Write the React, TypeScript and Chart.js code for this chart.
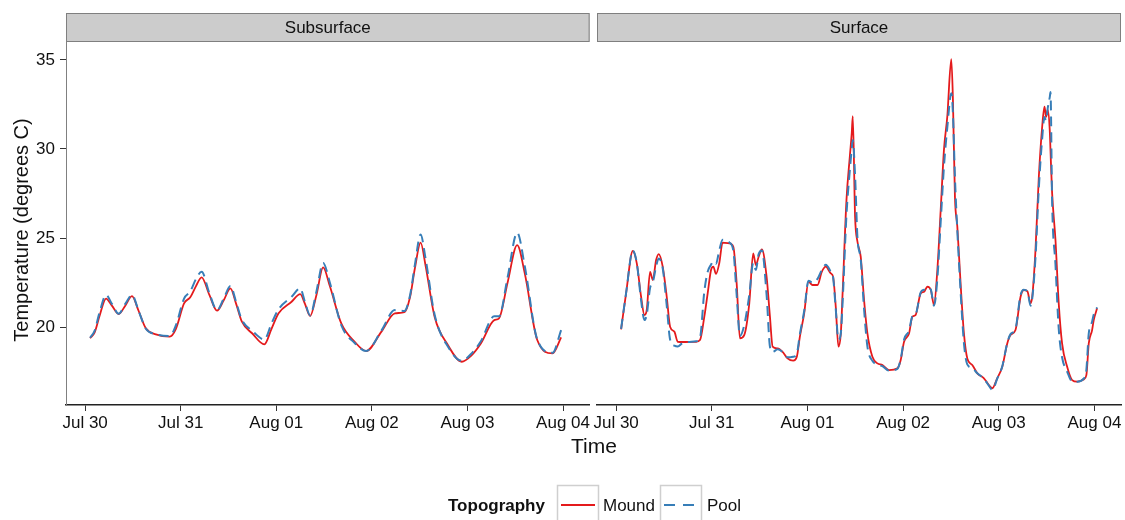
import React, { useEffect, useRef } from "react";
import { Chart, registerables } from "chart.js";

Chart.register(...registerables);

const FONT = '"Liberation Sans", Arial, Helvetica, sans-serif';
Chart.defaults.font.family = FONT;

// ---- axis ticks ----
const dayTicks = [0, 1, 2, 3, 4, 5];
const dayLabels = ["Jul 30", "Jul 31", "Aug 01", "Aug 02", "Aug 03", "Aug 04"];
const tempTicks = [20, 25, 30, 35];
const X_MIN = -0.2;
const X_MAX = 5.278;
const Y_MIN = 15.62;
const Y_MAX = 36.01;

const panelNames = ["Subsurface", "Surface"];
const seriesNames = ["Mound", "Pool"];
const yTitle = "Temperature (degrees C)";
const xTitle = "Time";
const legendTitle = "Topography";

// ---- Subsurface (time in days since Jul 30 00:00) ----
const subTime = [
  0.052, 0.10, 0.15, 0.219, 0.28, 0.351, 0.42, 0.49, 0.56, 0.635,
  0.74, 0.885, 0.95, 1.035, 1.10, 1.16, 1.219, 1.30, 1.38, 1.45,
  1.52, 1.58, 1.64, 1.747, 1.875, 1.95, 2.024, 2.16, 2.25, 2.30,
  2.354, 2.42, 2.49, 2.56, 2.68, 2.82, 2.94, 3.10, 3.24, 3.34,
  3.40, 3.45, 3.51, 3.56, 3.656, 3.795, 3.94, 4.04, 4.14, 4.28,
  4.33, 4.42, 4.52, 4.60, 4.73, 4.89, 4.98,
];
const subMound = [
  19.37, 19.7, 20.6, 21.6, 21.2, 20.73, 21.2, 21.74, 20.9, 19.93,
  19.59, 19.46, 19.9, 21.33, 21.67, 22.3, 22.79, 21.8, 20.92, 21.5,
  22.17, 21.3, 20.3, 19.65, 19.03, 19.9, 20.77, 21.42, 21.85, 21.3,
  20.62, 21.8, 23.35, 22.3, 20.2, 19.17, 18.65, 19.74, 20.77, 20.83,
  21.7, 23.3, 24.74, 23.5, 20.58, 18.99, 18.05, 18.4, 19.08, 20.39,
  20.49, 22.5, 24.6, 23.0, 19.27, 18.52, 19.42,
];
const subPool = [
  19.4, 19.8, 20.8, 21.8, 21.3, 20.75, 21.3, 21.8, 20.9, 19.9,
  19.6, 19.5, 20.1, 21.6, 22.0, 22.7, 23.1, 21.9, 20.95, 21.6,
  22.3, 21.4, 20.4, 19.8, 19.3, 20.2, 21.0, 21.7, 22.17, 21.4,
  20.65, 22.0, 23.6, 22.5, 20.1, 19.1, 18.65, 19.8, 20.95, 20.9,
  21.8, 23.5, 25.2, 23.9, 20.7, 18.9, 18.1, 18.5, 19.2, 20.6,
  20.6, 22.8, 25.3, 23.4, 19.3, 18.55, 19.83,
];

// ---- Surface ----
const surfTime = [
  0.052, 0.104, 0.174, 0.216, 0.261, 0.296, 0.32, 0.355, 0.383, 0.418,
  0.445, 0.487, 0.529, 0.564, 0.609, 0.644, 0.696, 0.835, 0.877, 0.922,
  0.957, 0.992, 1.016, 1.044, 1.078, 1.113, 1.183, 1.225, 1.26, 1.294,
  1.339, 1.392, 1.433, 1.461, 1.49, 1.524, 1.573, 1.608, 1.636, 1.688,
  1.74, 1.792, 1.851, 1.889, 1.921, 1.966, 2.011, 2.053, 2.105, 2.15,
  2.192, 2.244, 2.268, 2.296, 2.324, 2.349, 2.366, 2.408, 2.443, 2.463,
  2.474, 2.498, 2.523, 2.557, 2.592, 2.627, 2.679, 2.732, 2.784, 2.853,
  2.94, 2.975, 3.01, 3.062, 3.097, 3.13, 3.184, 3.22, 3.254, 3.29,
  3.323, 3.358, 3.393, 3.427, 3.462, 3.504, 3.521, 3.542, 3.567, 3.601,
  3.636, 3.671, 3.723, 3.776, 3.845, 3.897, 3.932, 3.984, 4.037, 4.089,
  4.123, 4.175, 4.228, 4.262, 4.30, 4.332, 4.35, 4.384, 4.419, 4.454,
  4.478, 4.495, 4.512, 4.533, 4.541, 4.558, 4.593, 4.627, 4.662, 4.715,
  4.767, 4.82, 4.888, 4.916, 4.941, 4.976, 4.993, 5.028,
];
const surfMound = [
  19.87, 21.89, 24.27, 23.58, 21.7, 20.67, 20.96, 23.1, 22.64, 23.76,
  24.1, 23.39, 21.7, 20.02, 19.74, 19.17, 19.16, 19.17, 19.27, 20.58,
  21.89, 23.2, 23.39, 22.98, 23.58, 24.74, 24.7, 24.51, 22.46, 19.37,
  19.55, 21.33, 24.14, 23.48, 23.95, 24.36, 22.83, 20.58, 18.9, 18.8,
  18.61, 18.24, 18.11, 18.33, 19.46, 20.77, 22.55, 22.36, 22.36, 23.1,
  23.39, 23.01, 22.83, 21.14, 18.9, 19.64, 21.7, 27.13, 29.57, 30.88,
  31.85, 26.2, 24.79, 23.95, 21.52, 19.64, 18.33, 17.96, 17.87, 17.58,
  17.68, 18.15, 19.17, 19.64, 20.58, 20.67, 21.89, 21.98, 22.27, 22.08,
  21.24, 23.2, 26.57, 29.94, 31.82, 35.04, 32.75, 27.32, 25.63, 22.45,
  19.64, 18.24, 17.87, 17.4, 17.12, 16.74, 16.56, 17.12, 17.77, 19.08,
  19.55, 19.83, 21.7, 22.08, 22.0, 21.33, 21.7, 24.33, 28.44, 31.25,
  32.38, 31.8, 32.19, 31.07, 29.9, 27.51, 24.89, 21.33, 19.08, 17.77,
  17.02, 16.93, 17.06, 17.3, 19.08, 19.83, 20.39, 21.05,
];
const surfPool = [
  19.9, 21.9, 24.3, 23.6, 21.5, 20.39, 20.7, 22.2, 22.5, 23.4,
  23.85, 23.3, 21.2, 19.3, 18.95, 18.9, 19.1, 19.2, 19.4, 22.0,
  23.1, 23.5, 23.7, 23.55, 24.3, 24.9, 24.75, 24.3, 21.8, 19.5,
  20.1, 21.8, 23.6, 23.2, 24.1, 24.3, 21.8, 18.9, 18.6, 18.75,
  18.6, 18.3, 18.33, 18.5, 19.6, 20.9, 22.6, 22.5, 22.7, 23.2,
  23.5, 23.1, 22.8, 21.0, 19.3, 19.64, 21.2, 26.3, 28.8, 30.0,
  30.5, 28.5, 25.0, 23.8, 21.0, 18.9, 18.1, 17.9, 17.8, 17.55,
  17.65, 18.2, 19.3, 19.8, 20.6, 20.7, 21.95, 22.1, 22.2, 22.1,
  21.2, 22.7, 25.9, 29.0, 31.2, 33.13, 32.0, 28.4, 25.4, 22.0,
  19.1, 17.9, 17.7, 17.4, 17.1, 16.7, 16.47, 17.1, 17.8, 19.1,
  19.6, 19.9, 21.8, 22.1, 22.0, 21.2, 21.6, 23.9, 27.8, 30.6,
  31.8, 31.6, 32.3, 32.9, 33.2, 27.0, 23.5, 19.9, 18.3, 17.5,
  16.95, 16.93, 17.1, 17.6, 19.64, 20.3, 20.7, 21.1,
];

const MOUND_COLOR = "#E41A1C";
const POOL_COLOR = "#377EB8";
const POOL_DASH = [10, 6];
const TEXT_COLOR = "#111111";

function stripPlugin(label: string) {
  return {
    id: "strip",
    beforeDraw(chart: any) {
      const { ctx, chartArea } = chart;
      const top = 13;
      const w = chartArea.right - chartArea.left;
      const h = chartArea.top - top;
      ctx.save();
      ctx.fillStyle = "#cccccc";
      ctx.fillRect(chartArea.left, top, w, h);
      ctx.strokeStyle = "#7f7f7f";
      ctx.lineWidth = 1;
      ctx.strokeRect(chartArea.left + 0.5, top + 0.5, w - 1, h - 1);
      ctx.fillStyle = TEXT_COLOR;
      ctx.font = `17px ${FONT}`;
      ctx.textAlign = "center";
      ctx.textBaseline = "middle";
      ctx.fillText(label, (chartArea.left + chartArea.right) / 2, top + h / 2 + 1);
      ctx.restore();
    },
  };
}

type PanelProps = {
  title: string;
  time: number[];
  mound: number[];
  pool: number[];
  showY: boolean;
  left: number;
  width: number;
  padLeft: number;
  padRight: number;
};

const CANVAS_H = 445;

function Panel(props: PanelProps) {
  const ref = useRef<HTMLCanvasElement | null>(null);
  useEffect(() => {
    const canvas = ref.current;
    if (!canvas) return;
    const toPts = (vals: number[]) => props.time.map((t, i) => ({ x: t, y: vals[i] }));
    const chart = new Chart(canvas, {
      type: "line",
      data: {
        datasets: [
          {
            label: seriesNames[1],
            data: toPts(props.pool),
            borderColor: POOL_COLOR,
            borderWidth: 2,
            borderDash: POOL_DASH,
            pointRadius: 0,
            fill: false,
            cubicInterpolationMode: "monotone",
          },
          {
            label: seriesNames[0],
            data: toPts(props.mound),
            borderColor: MOUND_COLOR,
            borderWidth: 1.8,
            pointRadius: 0,
            fill: false,
            cubicInterpolationMode: "monotone",
          },
        ],
      },
      options: {
        animation: false,
        responsive: false,
        maintainAspectRatio: false,
        events: [],
        layout: { padding: { top: 42, left: props.padLeft, right: props.padRight, bottom: 0 } },
        plugins: { legend: { display: false }, tooltip: { enabled: false } },
        scales: {
          x: {
            type: "linear",
            min: X_MIN,
            max: X_MAX,
            afterBuildTicks: (s: any) => {
              s.ticks = dayTicks.map((v) => ({ value: v }));
            },
            afterFit: (s: any) => {
              s.height = CANVAS_H - 405;
            },
            ticks: {
              autoSkip: false,
              maxRotation: 0,
              minRotation: 0,
              padding: 2,
              color: TEXT_COLOR,
              font: { size: 17 },
              callback: (v: any) => dayLabels[dayTicks.indexOf(Number(v))],
            },
            grid: {
              drawOnChartArea: false,
              drawTicks: true,
              tickLength: 6,
              tickColor: "#333333",
              color: "#333333",
            },
            border: { display: true, color: "#222222", width: 1.5 },
          },
          y: {
            display: props.showY,
            min: Y_MIN,
            max: Y_MAX,
            afterBuildTicks: (s: any) => {
              s.ticks = tempTicks.map((v) => ({ value: v }));
            },
            afterFit: (s: any) => {
              s.width = props.showY ? 66 : 0;
            },
            ticks: { padding: 5, color: TEXT_COLOR, font: { size: 17 } },
            grid: {
              drawOnChartArea: false,
              drawTicks: true,
              tickLength: 6,
              tickColor: "#333333",
              color: "#333333",
            },
            border: { display: true, color: "#808080", width: 1 },
            title: { display: false },
          },
        },
      },
      plugins: [stripPlugin(props.title)],
    } as any);
    return () => chart.destroy();
  }, []);
  return (
    <canvas
      ref={ref}
      width={props.width}
      height={CANVAS_H}
      style={{ position: "absolute", left: props.left, top: 0, width: props.width, height: CANVAS_H }}
    />
  );
}

function Legend() {
  const cy = 25;
  return (
    <svg
      width={1125}
      height={40}
      style={{ position: "absolute", left: 0, top: 480 }}
      fontFamily={FONT}
    >
      <text x={448} y={cy} fontSize={17} fontWeight="bold" dominantBaseline="central" fill={TEXT_COLOR}>
        {legendTitle}
      </text>
      <rect x={557.5} y={5.5} width={41} height={41} fill="#ffffff" stroke="#cfcfcf" strokeWidth={1.5} />
      <line x1={561} x2={595} y1={cy} y2={cy} stroke={MOUND_COLOR} strokeWidth={2} />
      <text x={603} y={cy} fontSize={17} dominantBaseline="central" fill={TEXT_COLOR}>
        {seriesNames[0]}
      </text>
      <rect x={660.5} y={5.5} width={41} height={41} fill="#ffffff" stroke="#cfcfcf" strokeWidth={1.5} />
      <line x1={664} x2={698} y1={cy} y2={cy} stroke={POOL_COLOR} strokeWidth={2} strokeDasharray="11 8" />
      <text x={707} y={cy} fontSize={17} dominantBaseline="central" fill={TEXT_COLOR}>
        {seriesNames[1]}
      </text>
    </svg>
  );
}

export default function App() {
  return (
    <div
      style={{
        position: "fixed",
        left: 0,
        top: 0,
        width: 1125,
        height: 520,
        background: "#ffffff",
        overflow: "hidden",
        fontFamily: FONT,
      }}
    >
      <Panel
        title={panelNames[0]}
        time={subTime}
        mound={subMound}
        pool={subPool}
        showY={true}
        left={0}
        width={592}
        padLeft={0}
        padRight={0}
      />
      <Panel
        title={panelNames[1]}
        time={surfTime}
        mound={surfMound}
        pool={surfPool}
        showY={false}
        left={577}
        width={548}
        padLeft={20}
        padRight={4}
      />
      <div
        style={{
          position: "absolute",
          left: 21 - 150,
          top: 230 - 12,
          width: 300,
          height: 24,
          lineHeight: "24px",
          textAlign: "center",
          fontSize: 20,
          color: TEXT_COLOR,
          transform: "rotate(-90deg)",
          transformOrigin: "50% 50%",
          whiteSpace: "nowrap",
        }}
      >
        {yTitle}
      </div>
      <div
        style={{
          position: "absolute",
          left: 494,
          width: 200,
          top: 434,
          textAlign: "center",
          fontSize: 21,
          lineHeight: "24px",
          color: TEXT_COLOR,
        }}
      >
        {xTitle}
      </div>
      <Legend />
    </div>
  );
}
